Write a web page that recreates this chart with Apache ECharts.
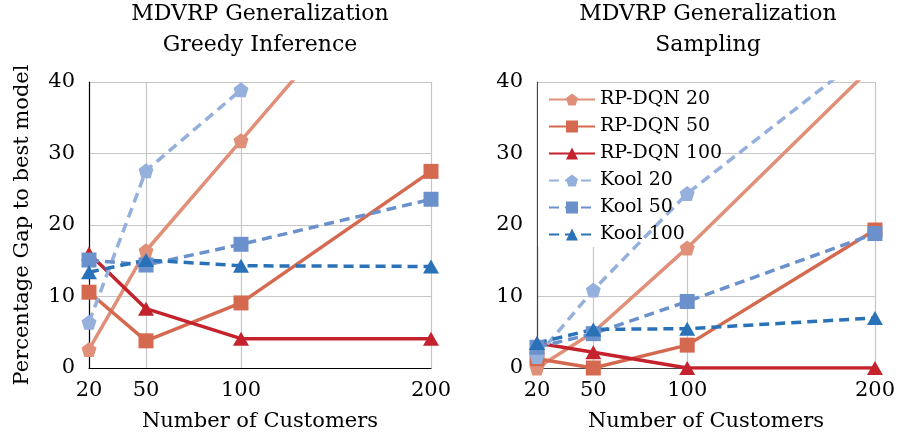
<!DOCTYPE html>
<html>
<head>
<meta charset="utf-8">
<script src="https://cdn.jsdelivr.net/npm/echarts@6/dist/echarts.min.js"></script>
<style>
  html, body { margin: 0; padding: 0; background: #fff; }
  #chart { width: 898px; height: 437px; }
</style>
</head>
<body>
<div id="chart"></div>
<script>
// ---- data ----
const customers = [20, 50, 100, 200];
const yTicks = [0, 10, 20, 30, 40];
const seriesNames = ['RP-DQN 20', 'RP-DQN 50', 'RP-DQN 100', 'Kool 20', 'Kool 50', 'Kool 100'];
const panelTitles = ['MDVRP Generalization\nGreedy Inference', 'MDVRP Generalization\nSampling'];
const xAxisName = 'Number of Customers';
const yAxisName = 'Percentage Gap to best model';

// Greedy inference panel
const greedyRpdqn20 = [2.6, 16.4, 31.8, 62.7];
const greedyRpdqn50 = [10.6, 3.8, 9.1, 27.5];
const greedyRpdqn100 = [16.0, 8.3, 4.1, 4.1];
const greedyKool20 = [6.4, 27.6, 38.9, null];
const greedyKool50 = [15.1, 14.4, 17.3, 23.6];
const greedyKool100 = [13.4, 15.1, 14.3, 14.2];

// Sampling panel
const samplingRpdqn20 = [0.0, 5.0, 16.8, 42.5];
const samplingRpdqn50 = [1.3, 0.0, 3.2, 19.3];
const samplingRpdqn100 = [3.5, 2.2, 0.0, 0.0];
const samplingKool20 = [1.6, 10.9, 24.4, 44.9];
const samplingKool50 = [2.9, 4.8, 9.3, 18.8];
const samplingKool100 = [3.5, 5.4, 5.5, 7.0];

// ---- styles ----
const FONT = 'DejaVu Serif';
const pentagon = 'path://M0,-1 L0.9511,-0.309 L0.5878,0.809 L-0.5878,0.809 L-0.9511,-0.309 Z';
const styles = [
  { color: '#e08f78', symbol: pentagon, dash: 'solid' },
  { color: '#d5694f', symbol: 'rect', dash: 'solid' },
  { color: '#c4232d', symbol: 'triangle', dash: 'solid' },
  { color: '#95b0dc', symbol: pentagon, dash: [10, 6] },
  { color: '#6b91cd', symbol: 'rect', dash: [10, 6] },
  { color: '#2a72b8', symbol: 'triangle', dash: [10, 6] }
];

const greedy = [greedyRpdqn20, greedyRpdqn50, greedyRpdqn100, greedyKool20, greedyKool50, greedyKool100];
const sampling = [samplingRpdqn20, samplingRpdqn50, samplingRpdqn100, samplingKool20, samplingKool50, samplingKool100];

function makeSeries(values, panel) {
  return values.map((arr, i) => ({
    name: seriesNames[i],
    type: 'line',
    xAxisIndex: panel,
    yAxisIndex: panel,
    data: customers.map((x, k) => [x, arr[k]]),
    symbol: styles[i].symbol,
    symbolSize: styles[i].symbol === 'triangle' ? [16, 14] : 15,
    showSymbol: true,
    clip: true,
    color: styles[i].color,
    lineStyle: { width: 3.5, type: styles[i].dash, color: styles[i].color },
    itemStyle: { color: styles[i].color },
    emphasis: { disabled: true },
    connectNulls: false
  }));
}

function xAxis(gridIndex, lineColor) {
  return {
    type: 'value',
    gridIndex,
    min: 20,
    max: 200,
    name: xAxisName,
    nameLocation: 'middle',
    nameGap: 43,
    nameTextStyle: { fontFamily: FONT, fontSize: 21, color: '#000' },
    axisLine: { show: true, onZero: false, lineStyle: { color: lineColor, width: 1.2 } },
    axisTick: { show: false, customValues: customers },
    axisLabel: { customValues: customers, fontFamily: FONT, fontSize: 21, color: '#000', margin: 12 },
    splitLine: { show: true, lineStyle: { color: '#c6c6c6', width: 1.2 } }
  };
}

function yAxis(gridIndex, lineColor, withName) {
  return {
    type: 'value',
    gridIndex,
    min: 0,
    max: 40,
    interval: 10,
    name: withName ? yAxisName : '',
    nameLocation: 'middle',
    nameGap: 56,
    nameTextStyle: { fontFamily: FONT, fontSize: 21, color: '#000' },
    axisLine: { show: true, onZero: false, lineStyle: { color: lineColor, width: 1.2 } },
    axisTick: { show: false },
    axisLabel: { fontFamily: FONT, fontSize: 21, color: '#000', margin: 14,
      formatter: v => (yTicks.indexOf(v) >= 0 ? String(v) : '') },
    splitLine: { show: true, lineStyle: { color: '#c6c6c6', width: 1.2 } }
  };
}

const chart = echarts.init(document.getElementById('chart'), null, { renderer: 'canvas' });
chart.setOption({
  animation: false,
  backgroundColor: '#fff',
  grid: [
    { left: 89, right: 467, top: 82, bottom: 69, containLabel: false },
    { left: 537, right: 20, top: 82, bottom: 69, containLabel: false }
  ],
  xAxis: [xAxis(0, '#000'), xAxis(1, '#444')],
  yAxis: [yAxis(0, '#000', true), yAxis(1, '#444', false)],
  legend: {
    data: seriesNames,
    orient: 'vertical',
    left: 548,
    top: 90,
    padding: 0,
    itemWidth: 46,
    itemHeight: 15,
    itemGap: 8,
    textStyle: { fontFamily: FONT, fontSize: 19, color: '#000' },
    selectedMode: false
  },
  graphic: [
    {
      type: 'rect', z: 1, silent: true,
      shape: { x: 538, y: 83, width: 179, height: 164 },
      style: { fill: '#fff' }
    },
    {
      type: 'text', z: 5, silent: true,
      x: 260, y: 30,
      style: { text: panelTitles[0], fill: '#000', font: '22px "' + FONT + '"',
        align: 'center', verticalAlign: 'middle', lineHeight: 31 }
    },
    {
      type: 'text', z: 5, silent: true,
      x: 708, y: 30,
      style: { text: panelTitles[1], fill: '#000', font: '22px "' + FONT + '"',
        align: 'center', verticalAlign: 'middle', lineHeight: 31 }
    }
  ],
  series: [...makeSeries(greedy, 0), ...makeSeries(sampling, 1)]
});
</script>
</body>
</html>
